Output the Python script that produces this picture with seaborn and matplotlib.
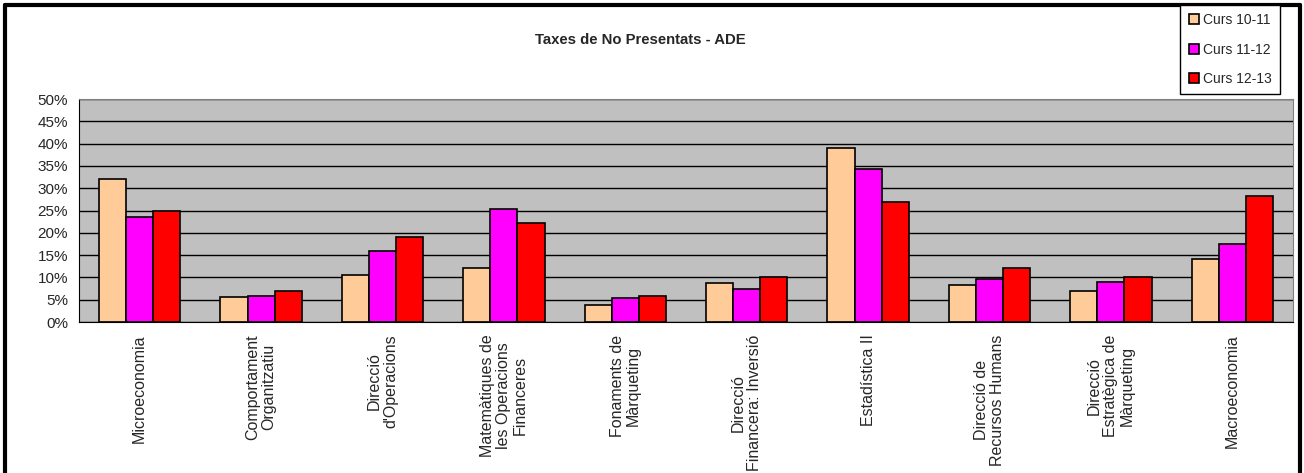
import pandas as pd
import matplotlib.pyplot as plt
import seaborn as sns
from matplotlib.ticker import PercentFormatter, MultipleLocator, FixedLocator
from matplotlib.lines import Line2D

# Data (percent)
subjects = [
    "Microeconomia",
    "Comportament\nOrganitzatiu",
    "Direcció\nd'Operacions",
    "Matemàtiques de\nles Operacions\nFinanceres",
    "Fonaments de\nMàrqueting",
    "Direcció\nFinancera: Inversió",
    "Estadística II",
    "Direcció de\nRecursos Humans",
    "Direcció\nEstratègica de\nMàrqueting",
    "Macroeconomia",
]
curs_10_11 = [32.0, 5.6, 10.6, 12.1, 3.8, 8.7, 39.1, 8.2, 7.0, 14.2]
curs_11_12 = [23.6, 5.8, 16.0, 25.3, 5.3, 7.3, 34.4, 9.6, 8.9, 17.4]
curs_12_13 = [24.9, 7.0, 19.0, 22.1, 5.9, 10.0, 26.8, 12.0, 10.0, 28.2]
series_names = ["Curs 10-11", "Curs 11-12", "Curs 12-13"]
colors = ["#FFCC99", "#FF00FF", "#FF0000"]

df = pd.DataFrame({"subject": subjects * 3,
                   "curs": sum([[n] * len(subjects) for n in series_names], []),
                   "value": curs_10_11 + curs_11_12 + curs_12_13})

sns.set_style("white")
plt.rcParams['font.family'] = ['Liberation Sans', 'DejaVu Sans']

fig = plt.figure(figsize=(13.04, 4.73), dpi=100)
ax = fig.add_axes([79 / 1304, 1 - 322 / 473, (1293 - 79) / 1304, (322 - 99) / 473])
ax.set_facecolor("#C0C0C0")

sns.barplot(data=df, x="subject", y="value", hue="curs", order=subjects,
            hue_order=series_names, palette=colors, width=0.67,
            edgecolor="black", linewidth=1.2, saturation=1, ax=ax, legend=False)

ax.set_ylim(0, 50)
ax.set_xlim(-0.5, len(subjects) - 0.5)
ax.yaxis.set_major_locator(MultipleLocator(5))
ax.yaxis.set_major_formatter(PercentFormatter(decimals=0))
ax.set_axisbelow(True)
ax.grid(axis="y", color="black", linewidth=1)
ax.grid(axis="x", visible=False)
ax.set_xlabel("")
ax.set_ylabel("")

# category boundaries as tick marks, labels at the centres
ax.xaxis.set_minor_locator(FixedLocator([i - 0.5 for i in range(len(subjects) + 1)]))
ax.tick_params(axis="x", which="major", length=0, pad=9)
ax.tick_params(axis="x", which="minor", length=5, width=1, color="black", direction="out")
ax.tick_params(axis="y", length=5, width=1, color="black", direction="out", pad=3,
               labelsize=11)
ax.set_xticks(range(len(subjects)))
ax.set_xticklabels(subjects, rotation=90, ha="center", va="top", fontsize=11.5,
                   multialignment="center", linespacing=1.1)

for side in ["top", "right"]:
    ax.spines[side].set_color("#808080")
for side in ["left", "bottom"]:
    ax.spines[side].set_color("black")

fig.text(640 / 1304, 1 - 40 / 473, "Taxes de No Presentats - ADE", ha="center",
         va="center", fontsize=10.7, fontweight="bold")

handles = [Line2D([], [], marker="s", linestyle="", markersize=7.5,
                  markerfacecolor=c, markeredgecolor="black", markeredgewidth=1.2)
           for c in colors]
fig.legend(handles, series_names, loc="upper right",
           bbox_to_anchor=(1280 / 1304, 1 - 5 / 473), frameon=True, fancybox=False,
           edgecolor="black", framealpha=1, fontsize=10, labelspacing=1.1,
           handlelength=0.8, handletextpad=0.25, borderpad=0.6, borderaxespad=0)

# outer chart frame (bottom is cut off in the original)
fig.add_artist(Line2D([5 / 1304, 5 / 1304], [0, 1 - 5 / 473], color="black", lw=3,
                      transform=fig.transFigure))
fig.add_artist(Line2D([5 / 1304, 1300 / 1304], [1 - 5 / 473, 1 - 5 / 473], color="black",
                      lw=3, transform=fig.transFigure))
fig.add_artist(Line2D([1300 / 1304, 1300 / 1304], [0, 1 - 5 / 473], color="black", lw=3,
                      transform=fig.transFigure))

plt.savefig("out.png", dpi=100)
plt.close()
